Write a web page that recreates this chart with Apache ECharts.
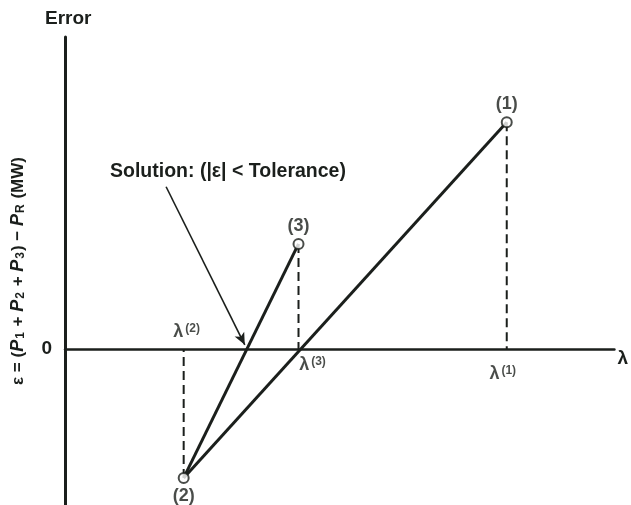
<!DOCTYPE html>
<html>
<head>
<meta charset="utf-8">
<style>
  html, body { margin: 0; padding: 0; background: #ffffff; }
  #chart { width: 631px; height: 505px; }
</style>
<script src="https://cdn.jsdelivr.net/npm/echarts@6/dist/echarts.min.js"></script>
</head>
<body>
<div id="chart"></div>
<script>
// Secant iteration on lambda: three trial points (lambda, error)
const pointNames = ['(1)', '(2)', '(3)'];
const lambdaVals = [8.04, 2.16, 4.25];
const errorVals = [4.36, -2.48, 2.02];
const lambdaTags = ['(1)', '(2)', '(3)'];

const INK = '#1b1f1c';
const FONT = 'Liberation Sans, Arial, sans-serif';

const pt = i => [lambdaVals[i], errorVals[i]];

// Zero crossing of the secant through points (2) and (3): the accepted solution
const solX = lambdaVals[1] + (0 - errorVals[1]) * (lambdaVals[2] - lambdaVals[1]) / (errorVals[2] - errorVals[1]);

const chart = echarts.init(document.getElementById('chart'));

const solidLine = (a, b, extra) => Object.assign({
  type: 'line',
  data: [pt(a), pt(b)],
  symbol: 'none',
  silent: true,
  lineStyle: { color: INK, width: 3 },
  z: 3
}, extra || {});

const dropLine = i => ({
  type: 'line',
  data: [pt(i), [lambdaVals[i], 0]],
  symbol: 'none',
  silent: true,
  lineStyle: { color: INK, width: 2, type: [9, 5] },
  z: 2
});

const tagPos = [
  { position: 'bottom', distance: 16, offset: [-4, 0] },
  { position: 'top', distance: 8, offset: [3, 0] },
  { position: 'bottom', distance: 7, offset: [14, 0] }
];
const markerLabelPos = [
  { position: 'top', distance: 3 },
  { position: 'bottom', distance: 3 },
  { position: 'top', distance: 3 }
];

chart.setOption({
  animation: false,
  backgroundColor: '#ffffff',
  grid: { left: 65, right: 16, top: 37, bottom: 0 },
  xAxis: {
    type: 'value', min: 0, max: 10,
    name: 'λ', nameLocation: 'end', nameGap: 3,
    nameTextStyle: { fontFamily: FONT, fontSize: 19, fontWeight: 'bold', color: INK, verticalAlign: 'top' },
    axisLine: { show: true, onZero: true, lineStyle: { color: INK, width: 2.5 } },
    axisTick: { show: false },
    axisLabel: { show: false },
    splitLine: { show: false }
  },
  yAxis: {
    type: 'value', min: -3, max: 6, interval: 1,
    name: '{t|ε = (}{p|P}{s|1}{t| + }{p|P}{s|2}{t| + }{p|P}{s|3}{t|) − }{p|P}{s|R}{t| (MW)}',
    nameLocation: 'middle', nameRotate: 90, nameGap: 38,
    nameTextStyle: {
      fontFamily: FONT, color: INK,
      rich: {
        t: { fontFamily: FONT, fontSize: 17, fontWeight: 'bold', color: INK, verticalAlign: 'bottom' },
        p: { fontFamily: FONT, fontSize: 18, fontWeight: 'bold', fontStyle: 'italic', color: INK, verticalAlign: 'bottom' },
        s: { fontFamily: FONT, fontSize: 12, fontWeight: 'bold', color: INK, verticalAlign: 'bottom', padding: [0, 1, 0, 1] }
      }
    },
    axisLine: { show: true, lineStyle: { color: INK, width: 3 } },
    axisTick: { show: false },
    axisLabel: {
      fontFamily: FONT, fontSize: 19, fontWeight: 'bold', color: INK, margin: 13,
      formatter: v => (v === 0 ? '0' : '')
    },
    splitLine: { show: false }
  },
  graphic: [
    { type: 'text', left: 45, top: 9, style: { text: 'Error', font: 'bold 19px ' + FONT, fill: INK } },
    { type: 'text', left: 110, top: 162, style: { text: 'Solution: (|ε| < Tolerance)', font: 'bold 19.5px ' + FONT, fill: INK } }
  ],
  series: [
    solidLine(1, 0),
    solidLine(1, 2, {
      markLine: {
        silent: true,
        symbol: ['none', 'arrow'],
        symbolSize: [8, 12],
        label: { show: false },
        lineStyle: { color: INK, width: 1.6, type: 'solid' },
        data: [[{ coord: [1.84, 3.12] }, { coord: [solX - 0.04, 0.08] }]]
      }
    }),
    dropLine(0),
    dropLine(1),
    dropLine(2),
    {
      // circle markers at each trial point
      type: 'scatter',
      silent: true,
      symbol: 'circle',
      symbolSize: 10,
      itemStyle: { color: '#ffffff', borderColor: INK, borderWidth: 2 },
      z: 5,
      data: pointNames.map((n, i) => ({
        value: pt(i),
        name: n,
        label: Object.assign({
          show: true, formatter: n,
          fontFamily: FONT, fontSize: 18, fontWeight: 'bold', color: INK
        }, markerLabelPos[i])
      }))
    },
    {
      // lambda tags on the axis
      type: 'scatter',
      silent: true,
      symbolSize: 0,
      z: 5,
      data: lambdaTags.map((t, i) => ({
        value: [lambdaVals[i], 0],
        label: Object.assign({
          show: true,
          formatter: '{l|λ}{s|' + t + '}',
          rich: {
            l: { fontFamily: FONT, fontSize: 18, fontWeight: 'bold', color: INK, verticalAlign: 'bottom' },
            s: { fontFamily: FONT, fontSize: 12, fontWeight: 'bold', color: INK, verticalAlign: 'top', padding: [0, 0, 0, 2] }
          }
        }, tagPos[i])
      }))
    }
  ]
});
</script>
</body>
</html>
